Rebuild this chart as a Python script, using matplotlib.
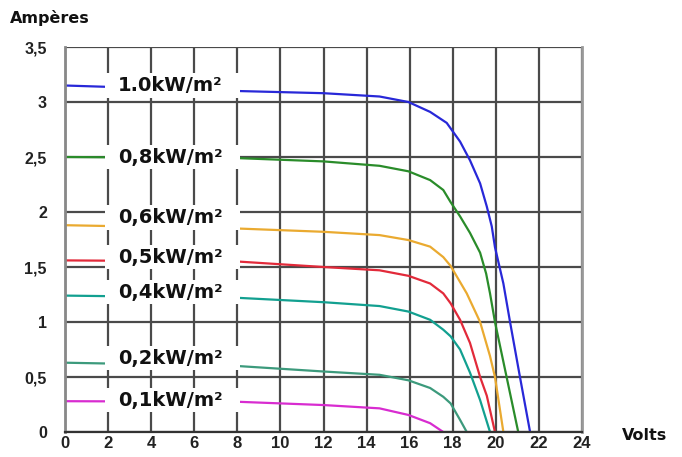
import matplotlib
matplotlib.use("Agg")
import matplotlib.pyplot as plt
from matplotlib.patches import Rectangle

# I-V curves (volts, amperes)
v_10 = [0, 8, 12, 14.6, 15.94, 16.95, 17.72, 18.34, 18.8, 19.27, 19.58, 19.81,
        19.96, 20.35, 20.66, 21.12, 21.59]
i_10 = [3.15, 3.10, 3.08, 3.05, 3.0, 2.91, 2.81, 2.64, 2.47, 2.26, 2.05, 1.87,
        1.68, 1.35, 1.0, 0.5, 0]
v_08 = [0, 8, 12, 14.6, 15.94, 16.95, 17.56, 17.9, 18.34, 18.8, 19.27, 19.55,
        19.73, 19.96, 20.5, 21.04]
i_08 = [2.5, 2.49, 2.46, 2.42, 2.37, 2.29, 2.2, 2.09, 1.96, 1.81, 1.63, 1.44,
        1.26, 1.0, 0.5, 0]
v_06 = [0, 8, 12, 14.6, 15.94, 16.95, 17.56, 17.9, 18.65, 19.27, 19.73, 19.96, 20.35]
i_06 = [1.88, 1.85, 1.82, 1.79, 1.745, 1.685, 1.59, 1.51, 1.26, 1.0, 0.69, 0.5, 0]
v_05 = [0, 8, 12, 14.6, 15.94, 16.95, 17.56, 17.9, 18.34, 18.8, 19.27, 19.58, 19.96]
i_05 = [1.56, 1.55, 1.50, 1.47, 1.42, 1.35, 1.26, 1.17, 1.02, 0.81, 0.5, 0.33, 0]
v_04 = [0, 8, 12, 14.6, 15.94, 16.95, 17.56, 17.9, 18.34, 18.8, 19.27, 19.73]
i_04 = [1.24, 1.22, 1.18, 1.145, 1.095, 1.02, 0.93, 0.87, 0.75, 0.54, 0.29, 0]
v_02 = [0, 8, 12, 14.6, 15.94, 16.95, 17.56, 17.9, 18.34, 18.65]
i_02 = [0.63, 0.60, 0.55, 0.52, 0.47, 0.40, 0.32, 0.26, 0.11, 0]
v_01 = [0, 8, 12, 14.6, 15.94, 16.95, 17.56]
i_01 = [0.28, 0.275, 0.245, 0.215, 0.155, 0.08, 0]

labels = ["1.0kW/m²", "0,8kW/m²", "0,6kW/m²", "0,5kW/m²",
          "0,4kW/m²", "0,2kW/m²", "0,1kW/m²"]
label_y = [3.15, 2.5, 1.95, 1.59, 1.27, 0.67, 0.29]
colors = ["#2828d8", "#2a8c2a", "#eaaa30", "#e22a3a",
          "#12a090", "#3c9a7c", "#d82cd0"]

x_ticks = list(range(0, 25, 2))
y_ticks = [0, 0.5, 1, 1.5, 2, 2.5, 3, 3.5]
y_ticklabels = ["0", "0,5", "1", "1,5", "2", "2,5", "3", "3,5"]

fig = plt.figure(figsize=(6.82, 4.57), dpi=100)
ax = fig.add_axes([65 / 682, 1 - 432 / 457, 517 / 682, 385 / 457])

curves = [(v_10, i_10), (v_08, i_08), (v_06, i_06), (v_05, i_05),
          (v_04, i_04), (v_02, i_02), (v_01, i_01)]
for (v, i), c in zip(curves, colors):
    ax.plot(v, i, color=c, lw=1.6, zorder=2, solid_joinstyle="round")

# inline labels on white boxes
for lab, y in zip(labels, label_y):
    ax.add_patch(Rectangle((1.86, y - 0.11), 6.26, 0.22, facecolor="white",
                           edgecolor="none", zorder=3))
    ax.text(2.45, y, lab, fontsize=14, fontweight="bold", family="DejaVu Sans",
            color="#111111", va="center", ha="left", zorder=4)

ax.set_xlim(0, 24)
ax.set_ylim(0, 3.5)
ax.set_xticks(x_ticks)
ax.set_yticks(y_ticks)
ax.set_yticklabels(y_ticklabels)
ax.grid(True, color="#4a4a4a", lw=1.6)
ax.set_axisbelow(True)
ax.tick_params(length=0)
ax.tick_params(axis="x", pad=3, labelsize=12)
ax.tick_params(axis="y", pad=13, labelsize=11.5)
for t in ax.get_xticklabels() + ax.get_yticklabels():
    t.set_fontweight("bold")
    t.set_family("Liberation Sans")
    t.set_color("#222222")

ax.spines["top"].set_visible(False)
ax.spines["left"].set_color("#888888")
ax.spines["left"].set_linewidth(2)
ax.spines["right"].set_color("#999999")
ax.spines["right"].set_linewidth(2)
ax.spines["bottom"].set_color("#333333")
ax.spines["bottom"].set_linewidth(1.6)

fig.text(10 / 682, 1 - 18 / 457, "Ampères", fontsize=11.5, fontweight="bold",
         family="DejaVu Sans", va="center", ha="left", color="#111111")
fig.text(622 / 682, 1 - 435 / 457, "Volts", fontsize=11.5, fontweight="bold",
         family="DejaVu Sans", va="center", ha="left", color="#111111")

fig.savefig("out.png", dpi=100)
